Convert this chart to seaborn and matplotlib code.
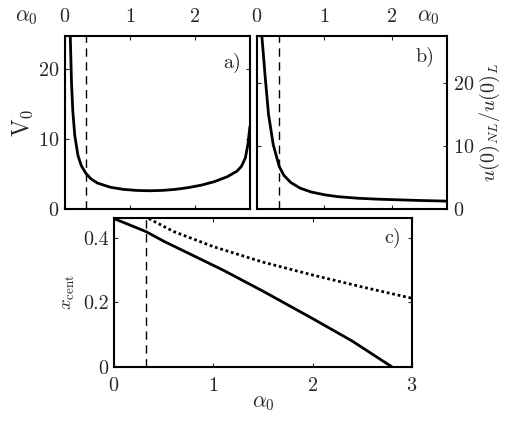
import numpy as np
import pandas as pd
import matplotlib
matplotlib.use("Agg")
import matplotlib.pyplot as plt
import seaborn as sns

# ---- data ----
alpha_a = [0.08, 0.10, 0.12, 0.15, 0.20, 0.25, 0.32, 0.40, 0.50, 0.70, 0.90, 1.10,
           1.30, 1.50, 1.70, 1.90, 2.10, 2.30, 2.50, 2.65, 2.72, 2.78, 2.82, 2.85]
V0 = [25.0, 18.0, 14.0, 10.5, 7.6, 6.2, 5.1, 4.3, 3.7, 3.1, 2.8, 2.65,
      2.6, 2.65, 2.8, 3.05, 3.4, 3.9, 4.6, 5.4, 6.1, 7.3, 9.3, 11.8]

alpha_b = [0.07, 0.09, 0.12, 0.17, 0.24, 0.33, 0.40, 0.50, 0.64, 0.80, 1.00, 1.20,
           1.50, 1.80, 2.10, 2.40, 2.80]
ratio = [27.5, 25.0, 21.0, 15.0, 10.2, 6.7, 5.3, 4.2, 3.3, 2.7, 2.25, 1.95,
         1.7, 1.55, 1.45, 1.35, 1.25]

alpha_c_solid = [0.0, 0.32, 0.50, 1.00, 1.10, 1.50, 2.00, 2.40, 2.80]
xcent_solid = [0.46, 0.42, 0.39, 0.315, 0.30, 0.235, 0.15, 0.08, 0.0]

alpha_c_dot = [0.35, 0.60, 1.00, 1.50, 2.00, 2.50, 3.00]
xcent_dot = [0.46, 0.42, 0.373, 0.325, 0.285, 0.248, 0.213]

alpha_crit = 0.32

# ---- style ----
sns.set_style("white")
plt.rcParams["font.family"] = ["cmr10", "DejaVu Serif"]
plt.rcParams["mathtext.fontset"] = "cm"
plt.rcParams["axes.formatter.use_mathtext"] = True
plt.rcParams["axes.unicode_minus"] = False
FS = 14.5

fig = plt.figure(figsize=(5.08, 4.21), dpi=100)
ax_a = fig.add_axes([0.128, 0.5036, 0.364, 0.411])
ax_b = fig.add_axes([0.506, 0.5036, 0.374, 0.411])
ax_c = fig.add_axes([0.2244, 0.1283, 0.5866, 0.354])

LW = 2.0

def style(ax):
    for s in ax.spines.values():
        s.set_linewidth(1.5)
        s.set_color("black")
        s.set_visible(True)
    ax.tick_params(direction="in", length=3, width=0.8, labelsize=FS,
                   top=True, right=True, bottom=True, left=True)
    ax.tick_params(axis="x", pad=7)
    ax.tick_params(axis="y", pad=4)

# panel a
sns.lineplot(x=alpha_a, y=V0, ax=ax_a, color="black", lw=LW)
ax_a.axvline(alpha_crit, color="black", lw=1.0, ls=(0, (6, 4)))
ax_a.set_xlim(0, 2.85)
ax_a.set_ylim(0, 24.7)
style(ax_a)
ax_a.set_xticks([0, 1, 2])
ax_a.set_yticks([0, 10, 20])
ax_a.xaxis.tick_top()
ax_a.tick_params(axis="x", bottom=True, top=True, labelbottom=False, labeltop=True)
ax_a.set_ylabel(r"$\mathrm{V}_0$", fontsize=17, labelpad=2)
ax_a.text(-0.15, 1.11, r"$\alpha_0$", transform=ax_a.transAxes, fontsize=FS + 1,
          ha="right", va="center")
ax_a.text(0.95, 0.845, "a)", transform=ax_a.transAxes, fontsize=FS, ha="right", va="center")

# panel b
sns.lineplot(x=alpha_b, y=ratio, ax=ax_b, color="black", lw=LW)
ax_b.axvline(alpha_crit, color="black", lw=1.0, ls=(0, (6, 4)))
ax_b.set_xlim(0, 2.82)
ax_b.set_ylim(0, 27.4)
style(ax_b)
ax_b.set_xticks([0, 1, 2])
ax_b.set_yticks([0, 10, 20])
ax_b.xaxis.tick_top()
ax_b.tick_params(axis="x", bottom=True, top=True, labelbottom=False, labeltop=True)
ax_b.yaxis.tick_right()
ax_b.tick_params(axis="y", left=True, right=True, labelleft=False, labelright=True)
ax_b.yaxis.set_label_position("right")
ax_b.set_ylabel(r"$u(0)_{NL}/u(0)_L$", fontsize=FS, rotation=90, labelpad=3)
ax_b.text(0.84, 1.11, r"$\alpha_0$", transform=ax_b.transAxes, fontsize=FS + 1,
          ha="left", va="center")
ax_b.text(0.935, 0.88, "b)", transform=ax_b.transAxes, fontsize=FS, ha="right", va="center")

# panel c
sns.lineplot(x=alpha_c_solid, y=xcent_solid, ax=ax_c, color="black", lw=LW)
sns.lineplot(x=alpha_c_dot, y=xcent_dot, ax=ax_c, color="black", lw=LW, ls=(0, (1, 1)))
ax_c.axvline(alpha_crit, color="black", lw=1.0, ls=(0, (6, 4)))
ax_c.set_xlim(0, 3)
ax_c.set_ylim(0, 0.462)
style(ax_c)
ax_c.set_xticks([0, 1, 2, 3])
ax_c.set_yticks([0, 0.2, 0.4])
ax_c.set_yticklabels(["0", "0.2", "0.4"])
ax_c.set_xlabel(r"$\alpha_0$", fontsize=FS + 1, labelpad=-1)
ax_c.set_ylabel(r"$x_{\mathrm{cent}}$", fontsize=FS - 1, labelpad=4)
ax_c.text(0.962, 0.866, "c)", transform=ax_c.transAxes, fontsize=FS, ha="right", va="center")

fig.savefig("out.png", dpi=100)
